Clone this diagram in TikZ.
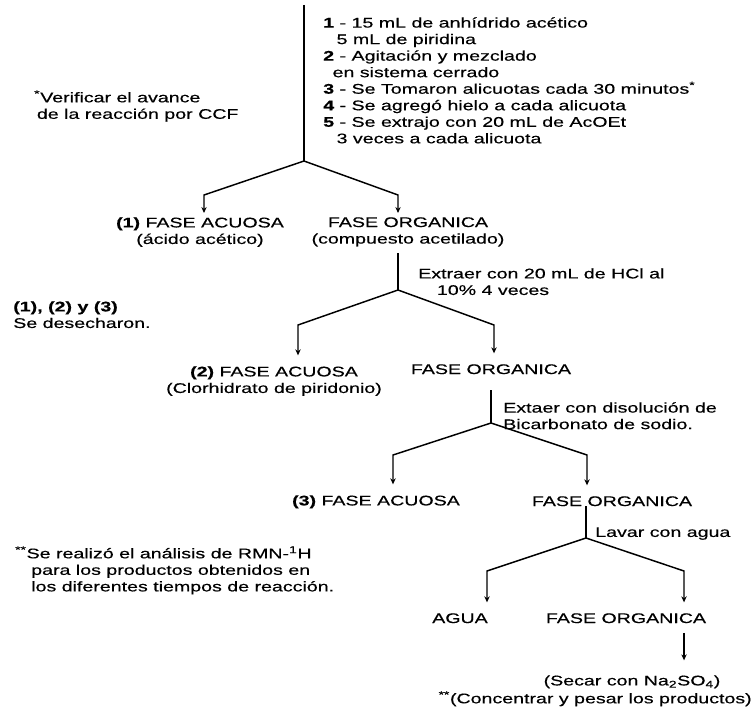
\documentclass[tikz,border=0pt]{standalone}
\usepackage{fontspec}
\setmainfont{Liberation Sans}[FakeStretch=1.4, FakeBold=0.4]
\usetikzlibrary{positioning, arrows.meta, calc}

\newcommand{\nota}{\textsuperscript{*}}
\newcommand{\notas}{\textsuperscript{**}}

\begin{document}
\begin{tikzpicture}[
        x=0.75pt, y=-0.75pt,
        txt/.style={inner sep=0pt, font=\fontsize{10.5}{12.4}\selectfont},
        lbl/.style={txt, align=left, anchor=north west},
        phase/.style={txt, align=center, anchor=north},
        branch/.style={line width=1.1pt},
        arrow/.style={branch, -{Stealth[length=4.5pt, width=4pt]}, shorten >=8pt}
    ]
    \useasboundingbox (0,0) rectangle (755,710);

    % reaccion y notas
    \coordinate (top) at (304,5);
    \coordinate (j1) at (304,161);
    \coordinate (cl1) at (204,195);
    \coordinate (cr1) at (398,195);

    \node[lbl] (steps) at (323,17) {\textbf{1} - 15 mL de anhídrido acético\\
        \hspace*{10pt}5 mL de piridina\\
        \textbf{2} - Agitación y mezclado\\
        \hspace*{7pt}en sistema cerrado\\
        \textbf{3} - Se Tomaron alicuotas cada 30 minutos\nota\\
        \textbf{4} - Se agregó hielo a cada alicuota\\
        \textbf{5} - Se extrajo con 20 mL de AcOEt\\
        \hspace*{10pt}3 veces a cada alicuota};
    \node[lbl] (verif) at (34,90) {\nota Verificar el avance\\ \hspace*{2pt}de la reacción por CCF};

    \node[phase] (aq1) at (200,217) {\textbf{(1)} FASE ACUOSA\\(ácido acético)};
    \node[phase] (org1) at (408,217) {FASE ORGANICA\\(compuesto acetilado)};

    \draw[branch] (top) -- (j1);
    \draw[arrow, shorten >=3pt] (j1) -- (cl1) -- (cl1 |- aq1.north);
    \draw[arrow, shorten >=3pt] (j1) -- (cr1) -- (cr1 |- org1.north);

    % extraccion con HCl
    \coordinate (j2) at (398,290);
    \coordinate (cl2) at (298,325);
    \coordinate (cr2) at (494,325);

    \node[lbl] (hcl) at (418,268) {Extraer con 20 mL de HCl al\\ \hspace*{14pt}10\% 4 veces};
    \node[lbl] (disc) at (13,301) {\textbf{(1), (2) y (3)}\\Se desecharon.};

    \node[phase] (aq2) at (274,366) {\textbf{(2)} FASE ACUOSA\\(Clorhidrato de piridonio)};
    \node[phase] (org2) at (491,364) {FASE ORGANICA};

    \draw[branch, shorten <=5pt] (org1.south -| j2) -- (j2);
    \draw[arrow] (j2) -- (cl2) -- (cl2 |- aq2.north);
    \draw[arrow] (j2) -- (cr2) -- (cr2 |- org2.north);

    % extraccion con bicarbonato
    \coordinate (j3) at (491,423);
    \coordinate (cl3) at (393,455);
    \coordinate (cr3) at (587,455);

    \node[lbl] (bic) at (503,402) {Extaer con disolución de\\Bicarbonato de sodio.};

    \node[phase] (aq3) at (376,495) {\textbf{(3)} FASE ACUOSA};
    \node[phase] (org3) at (612,496) {FASE ORGANICA};

    \draw[branch, shorten <=12pt] (org2.south -| j3) -- (j3);
    \draw[arrow] (j3) -- (cl3) -- (cl3 |- aq3.north);
    \draw[arrow] (j3) -- (cr3) -- (cr3 |- org3.north);

    % lavado con agua
    \coordinate (j4) at (586,538);
    \coordinate (cl4) at (487,571);
    \coordinate (cr4) at (684,571);

    \node[lbl] (wash) at (595,527) {Lavar con agua};
    \node[lbl] (rmn) at (15,546) {\notas Se realizó el análisis de RMN-\textsuperscript{1}H\\
        \hspace*{12pt}para los productos obtenidos en\\
        \hspace*{12pt}los diferentes tiempos de reacción.};

    \node[phase] (water) at (460,613) {AGUA};
    \node[phase] (org4) at (626,613) {FASE ORGANICA};

    \draw[branch] (org3.south -| j4) -- (j4);
    \draw[arrow] (j4) -- (cl4) -- (cl4 |- water.north);
    \draw[arrow] (j4) -- (cr4) -- (cr4 |- org4.north);

    % secado
    \node[phase] (dry) at (632,675) {(Secar con Na\textsubscript{2}SO\textsubscript{4})};
    \node[txt, anchor=north east] (conc) at (752,691) {\notas(Concentrar y pesar los productos)};

    \draw[arrow, shorten <=7pt, shorten >=11pt] (cr4 |- org4.south) -- (cr4 |- dry.north);

\end{tikzpicture}
\end{document}
